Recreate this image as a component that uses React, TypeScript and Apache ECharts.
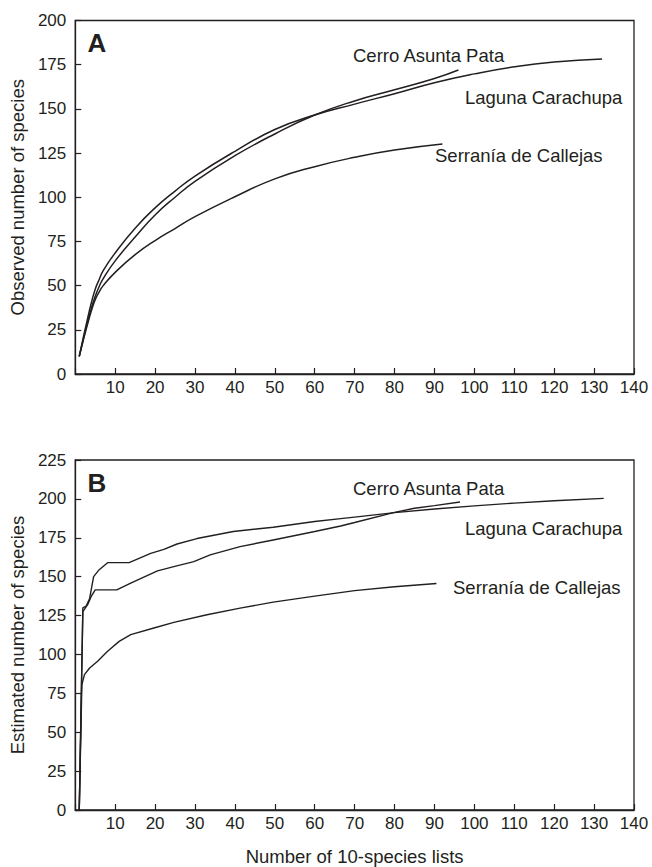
import React, { useEffect, useRef } from "react";
import * as echarts from "echarts";

// ---------- Panel A: observed number of species ----------
const cerroA_x = [1, 2, 3, 4, 5, 6, 7, 10, 15, 20, 25, 30, 40, 50, 60, 70, 80, 90, 96];
const cerroA_y = [10, 19.5, 28.5, 37, 44, 49.5, 54, 64, 77.5, 90, 100, 109, 123.5, 135.8, 146.5, 154.5, 160.8, 167.2, 172];

const lagunaA_x = [1, 2, 3, 4, 5, 6, 7, 10, 15, 20, 25, 30, 40, 50, 60, 70, 80, 90, 100, 110, 120, 132];
const lagunaA_y = [10, 20.5, 30.5, 40, 48, 53.5, 58.5, 68.5, 82.5, 94, 103.5, 112, 126, 138.3, 146.5, 152.7, 158.6, 164.8, 169.8, 173.8, 176.5, 178.2];

const serraniaA_x = [1, 2, 3, 4, 5, 6, 7, 10, 15, 20, 25, 30, 40, 50, 60, 70, 80, 92];
const serraniaA_y = [10, 19, 27.5, 35.5, 42, 46.5, 50, 57.5, 67.5, 75.5, 82.3, 89, 100.3, 110.4, 117.3, 122.6, 126.7, 130.1];

// ---------- Panel B: estimated number of species ----------
const cerroB_x = [1, 1.9, 3.1, 4, 5, 10.4, 13.9, 20.6, 24.7, 29.7, 33.8, 41.3, 49.6, 60, 66.5, 70, 80, 85, 90, 96.4];
const cerroB_y = [0, 127.5, 132, 137.3, 141.5, 141.5, 145.8, 153.7, 156.5, 159.7, 164, 169.3, 173.6, 179, 182.6, 184.8, 191.3, 194, 195.7, 198];

const lagunaB_x = [1, 1.9, 2.7, 3.6, 4.6, 6, 8.1, 13.5, 18.9, 22.2, 25.5, 30.5, 39.6, 49.6, 60, 66.5, 70, 80, 90, 100, 110, 120, 132.4];
const lagunaB_y = [0, 130, 131, 136, 150, 154.5, 159, 159, 165, 167.5, 171, 174.5, 179, 181.8, 185.5, 187.3, 188.3, 191.2, 193.5, 195.5, 197.3, 198.8, 200.3];

const serraniaB_x = [1, 1.65, 2.3, 3.6, 5.6, 8.1, 11, 13.9, 19.7, 24.7, 33, 41.3, 49.6, 60, 70, 80, 90.5];
const serraniaB_y = [0, 80.5, 87, 91.3, 95.6, 102, 108.4, 112.7, 117, 120.6, 125.5, 129.8, 133.6, 137.5, 141, 143.5, 145.6];

// ---------- axes ----------
const xMin = 0, xMax = 140, xStep = 10;
const yMaxA = 200, yMaxB = 225, yStep = 25;

const panelLetters = ["A", "B"];
const siteNames = ["Cerro Asunta Pata", "Laguna Carachupa", "Serranía de Callejas"];
const yTitles = ["Observed number of species", "Estimated number of species"];
const xTitle = "Number of 10-species lists";

const ink = "#231f20";
const font = "'Liberation Sans', Arial, Helvetica, sans-serif";

const pairs = (xs: number[], ys: number[]) => xs.map((x, i) => [x, ys[i]]);

export default function App() {
  const ref = useRef<HTMLDivElement>(null);

  useEffect(() => {
    document.body.style.margin = "0";
    if (!ref.current) return;
    const chart = echarts.init(ref.current, undefined, { renderer: "svg" });

    const axisLine = { show: true, lineStyle: { color: ink, width: 1.3 } };
    const axisTick = { show: true, inside: true, length: 6, lineStyle: { color: ink, width: 1.2 } };

    const mkX = (gi: number, withName: boolean) => ({
      gridIndex: gi,
      type: "value",
      min: xMin,
      max: xMax,
      interval: xStep,
      axisLine,
      axisTick,
      splitLine: { show: false },
      axisLabel: {
        formatter: (v: number) => (v === 0 ? "" : String(v)),
        fontSize: 17,
        color: ink,
        fontFamily: font,
        margin: 5,
      },
      ...(withName
        ? {
            name: xTitle,
            nameLocation: "middle",
            nameGap: 37,
            nameTextStyle: { fontSize: 18.5, color: ink, fontFamily: font },
          }
        : {}),
    });

    const mkY = (gi: number, max: number, title: string) => ({
      gridIndex: gi,
      type: "value",
      min: 0,
      max,
      interval: yStep,
      axisLine,
      axisTick,
      splitLine: { show: false },
      axisLabel: { fontSize: 17, color: ink, fontFamily: font, margin: 9 },
      name: title,
      nameLocation: "middle",
      nameGap: 45,
      nameTextStyle: { fontSize: 18.5, color: ink, fontFamily: font },
    });

    const lineA = (name: string, xs: number[], ys: number[]) => ({
      name,
      type: "line",
      xAxisIndex: 0,
      yAxisIndex: 0,
      data: pairs(xs, ys),
      showSymbol: false,
      smooth: 0.5,
      lineStyle: { color: ink, width: 1.5 },
      silent: true,
    });
    const lineB = (name: string, xs: number[], ys: number[]) => ({
      name,
      type: "line",
      xAxisIndex: 1,
      yAxisIndex: 1,
      data: pairs(xs, ys),
      showSymbol: false,
      smooth: false,
      lineStyle: { color: ink, width: 1.4 },
      silent: true,
    });

    const label = (text: string, x: number, y: number) => ({
      type: "text",
      x,
      y,
      style: { text, fontSize: 18.5, fontFamily: font, fill: ink, align: "left", verticalAlign: "middle" },
      silent: true,
    });
    const letter = (text: string, x: number, y: number) => ({
      type: "text",
      x,
      y,
      style: { text, fontSize: 26, fontWeight: "bold", fontFamily: font, fill: ink, align: "center", verticalAlign: "middle" },
      silent: true,
    });

    chart.setOption({
      animation: false,
      backgroundColor: "#ffffff",
      grid: [
        { left: 72.5, top: 20.5, width: 561.5, height: 353.5, show: true, borderColor: ink, borderWidth: 1.3, backgroundColor: "transparent" },
        { left: 72.5, top: 460, width: 561.5, height: 352.5, show: true, borderColor: ink, borderWidth: 1.3, backgroundColor: "transparent" },
      ],
      xAxis: [mkX(0, false), mkX(1, true)],
      yAxis: [mkY(0, yMaxA, yTitles[0]), mkY(1, yMaxB, yTitles[1])],
      series: [
        lineA(siteNames[0], cerroA_x, cerroA_y),
        lineA(siteNames[1], lagunaA_x, lagunaA_y),
        lineA(siteNames[2], serraniaA_x, serraniaA_y),
        lineB(siteNames[0], cerroB_x, cerroB_y),
        lineB(siteNames[1], lagunaB_x, lagunaB_y),
        lineB(siteNames[2], serraniaB_x, serraniaB_y),
      ],
      graphic: [
        letter(panelLetters[0], 97, 43),
        letter(panelLetters[1], 97, 483),
        label(siteNames[0], 353, 55),
        label(siteNames[1], 465, 97),
        label(siteNames[2], 435, 155),
        label(siteNames[0], 353, 488),
        label(siteNames[1], 465, 528),
        label(siteNames[2], 453, 587),
      ],
    });

    return () => chart.dispose();
  }, []);

  return <div ref={ref} style={{ width: 652, height: 867 }} />;
}
